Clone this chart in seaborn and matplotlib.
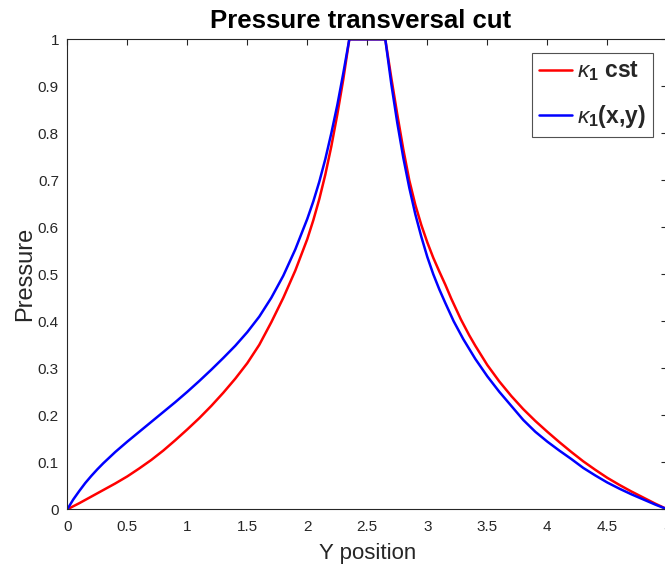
import matplotlib
matplotlib.use("Agg")
import matplotlib.pyplot as plt
import seaborn as sns
import pandas as pd

# ---- data ----
series_labels = [r"$\kappa_{\mathbf{1}}$ cst", r"$\kappa_{\mathbf{1}}$(x,y)"]
series_colors = ["#ff0000", "#0000ff"]

x_red = [0.0, 0.1, 0.2, 0.3, 0.4, 0.5, 0.6, 0.7, 0.8, 0.9, 1.0, 1.1, 1.2, 1.3, 1.4,
         1.5, 1.6, 1.7, 1.8, 1.9, 2.0, 2.05, 2.1, 2.15, 2.2, 2.25, 2.3, 2.35,
         2.65, 2.7, 2.75, 2.8, 2.85, 2.9, 2.95, 3.0, 3.05, 3.1, 3.15, 3.2, 3.28,
         3.35, 3.4, 3.5, 3.6, 3.7, 3.8, 3.9, 4.0, 4.1, 4.2, 4.3, 4.4, 4.5, 4.6,
         4.7, 4.8, 4.9, 5.0]
p_red = [0.0, 0.013, 0.027, 0.041, 0.055, 0.070, 0.087, 0.105, 0.125, 0.147, 0.170,
         0.194, 0.220, 0.248, 0.278, 0.311, 0.350, 0.398, 0.450, 0.508, 0.575,
         0.615, 0.660, 0.712, 0.772, 0.840, 0.915, 1.0,
         1.0, 0.918, 0.840, 0.766, 0.700, 0.648, 0.605, 0.568, 0.535, 0.506,
         0.478, 0.448, 0.404, 0.370, 0.348, 0.307, 0.272, 0.241, 0.213, 0.188,
         0.165, 0.143, 0.122, 0.102, 0.084, 0.067, 0.052, 0.038, 0.025, 0.012, 0.0]

x_blue = [0.0, 0.05, 0.1, 0.15, 0.2, 0.25, 0.3, 0.4, 0.5, 0.6, 0.7, 0.8, 0.9, 1.0,
          1.1, 1.2, 1.3, 1.4, 1.5, 1.6, 1.7, 1.8, 1.9, 2.0, 2.05, 2.1, 2.15, 2.2,
          2.25, 2.3, 2.35, 2.65, 2.7, 2.75, 2.8, 2.85, 2.9, 2.95, 3.0, 3.05, 3.1,
          3.15, 3.22, 3.3, 3.4, 3.5, 3.6, 3.7, 3.8, 3.9, 4.0, 4.1, 4.2, 4.3, 4.4,
          4.5, 4.6, 4.7, 4.8, 4.9, 5.0]
p_blue = [0.0, 0.021, 0.039, 0.056, 0.071, 0.085, 0.098, 0.122, 0.144, 0.165, 0.186,
          0.207, 0.228, 0.250, 0.273, 0.297, 0.322, 0.348, 0.377, 0.410, 0.450,
          0.497, 0.553, 0.618, 0.655, 0.697, 0.745, 0.800, 0.860, 0.928, 1.0,
          1.0, 0.905, 0.822, 0.748, 0.684, 0.628, 0.580, 0.537, 0.500, 0.468,
          0.439, 0.400, 0.362, 0.320, 0.283, 0.250, 0.220, 0.190, 0.165, 0.144,
          0.125, 0.107, 0.088, 0.072, 0.057, 0.044, 0.032, 0.021, 0.010, 0.0]

x_ticks = [0, 0.5, 1, 1.5, 2, 2.5, 3, 3.5, 4, 4.5, 5]
x_tick_labels = ["0", "0.5", "1", "1.5", "2", "2.5", "3", "3.5", "4", "4.5", "5"]
y_ticks = [0, 0.1, 0.2, 0.3, 0.4, 0.5, 0.6, 0.7, 0.8, 0.9, 1]
y_tick_labels = ["0", "0.1", "0.2", "0.3", "0.4", "0.5", "0.6", "0.7", "0.8", "0.9", "1"]

title = "Pressure transversal cut"
xlabel = "Y position"
ylabel = "Pressure"

# ---- build table ----
df = pd.concat([
    pd.DataFrame({"Y": x_red, "P": p_red, "series": series_labels[0]}),
    pd.DataFrame({"Y": x_blue, "P": p_blue, "series": series_labels[1]}),
], ignore_index=True)

sns.set_style("white")
plt.rcParams["font.family"] = ["Liberation Sans", "DejaVu Sans"]
plt.rcParams["mathtext.fontset"] = "custom"
plt.rcParams["mathtext.rm"] = "Liberation Sans"
plt.rcParams["mathtext.it"] = "Liberation Sans:italic"
plt.rcParams["mathtext.bf"] = "Liberation Sans:bold"

dark = "#262626"
fig = plt.figure(figsize=(6.65, 5.68), dpi=100)
ax = fig.add_axes([67.3 / 665, 1 - 509.3 / 568, 600 / 665, 470 / 568])

sns.lineplot(data=df, x="Y", y="P", hue="series",
             palette=dict(zip(series_labels, series_colors)),
             estimator=None, sort=False, linewidth=1.8, ax=ax, legend=False)

ax.set_xlim(0, 5)
ax.set_ylim(0, 1)
ax.set_xticks(x_ticks)
ax.set_xticklabels(x_tick_labels)
ax.set_yticks(y_ticks)
ax.set_yticklabels(y_tick_labels)
ax.tick_params(direction="in", length=4, width=0.8, colors=dark,
               labelsize=11, top=True, right=True)
ax.tick_params(axis="x", pad=8)
ax.tick_params(axis="y", pad=6)
for s in ax.spines.values():
    s.set_visible(True)
    s.set_color(dark)
    s.set_linewidth(0.8)

ax.set_xlabel(xlabel, fontsize=16, color=dark, labelpad=6)
ax.set_ylabel(ylabel, fontsize=17, color=dark, labelpad=1)
ax.set_title(title, fontsize=18.5, fontweight="bold", color="black", pad=8,
             x=(360.5 - 67.3) / 600)

handles = [plt.Line2D([], [], color=c, linewidth=1.8) for c in series_colors]
leg = ax.legend(handles, series_labels, loc="upper right",
                bbox_to_anchor=(652.7 / 665, 1 - 52.7 / 568),
                bbox_transform=fig.transFigure, borderaxespad=0,
                prop={"size": 16.5, "weight": "bold"}, frameon=True, fancybox=False,
                handlelength=1.45, handletextpad=0.2, labelspacing=0.85,
                borderpad=0.3)
leg.get_frame().set_edgecolor(dark)
leg.get_frame().set_linewidth(0.8)

fig.savefig("out.png", dpi=100)
